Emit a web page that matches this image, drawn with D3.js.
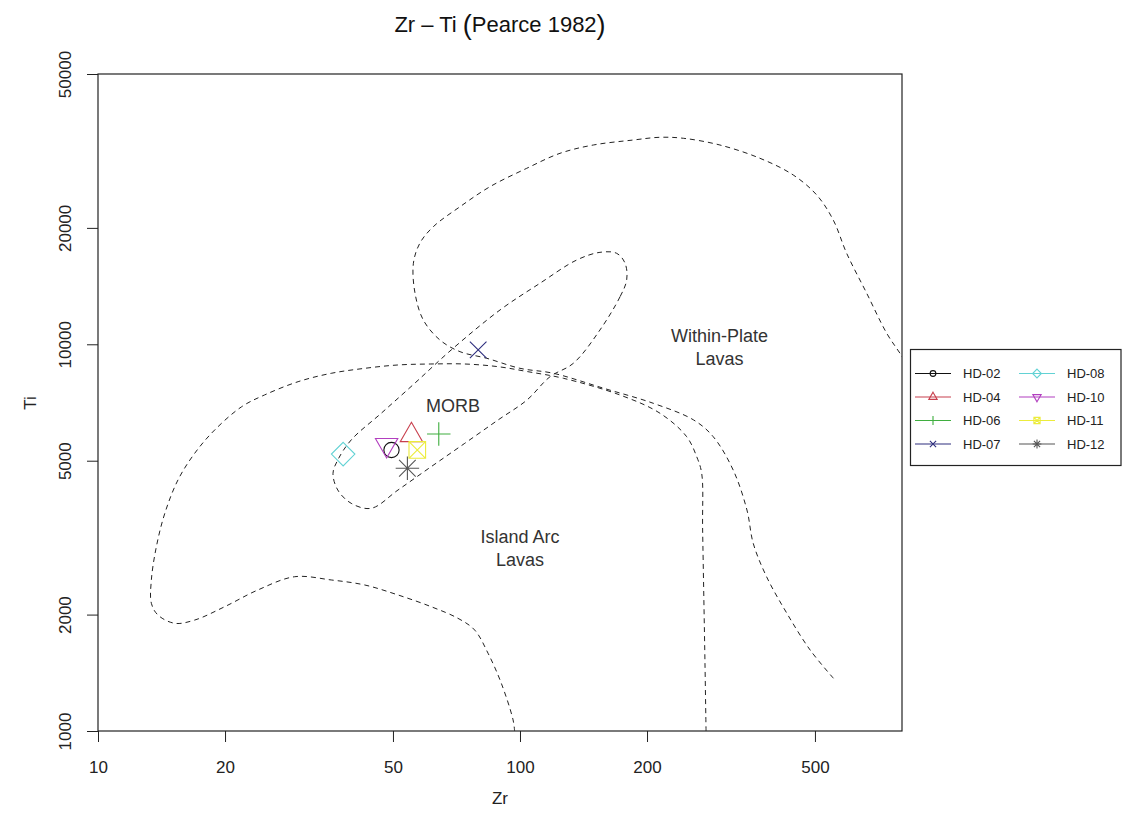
<!DOCTYPE html>
<html>
<head>
<meta charset="utf-8">
<script src="https://cdn.jsdelivr.net/npm/d3@7"></script>
<style>
  body { margin: 0; background: #fff; }
  svg { display: block; font-family: "Liberation Sans", Arial, sans-serif; }
</style>
</head>
<body>
<svg id="chart" width="1123" height="821"></svg>
<script>
// Samples (Zr and Ti in ppm)
const samples = ["HD-02", "HD-04", "HD-06", "HD-07", "HD-08", "HD-10", "HD-11", "HD-12"];
const zrValues = [49.6, 55.3, 64.2, 79.6, 38.1, 48.3, 57.1, 54.1];
const tiValues = [5330, 5820, 5860, 9670, 5200, 5490, 5330, 4780];
const sampleColors = ["#111111", "#c8404e", "#3fae3f", "#2e2e7e", "#62d2d4", "#b23fbf", "#ecec3c", "#555555"];
const sampleSymbols = ["circle", "triangleUp", "plus", "cross", "diamond", "triangleDown", "squareCross", "asterisk"];

// Axis ticks
const xTicks = [10, 20, 50, 100, 200, 500];
const yTicks = [1000, 2000, 5000, 10000, 20000, 50000];

// Field boundaries, [Zr, Ti]
const withinPlateBoundary = [
  [553, 1369], [487, 1620], [429, 2015], [384, 2506], [357, 3058], [345, 3728], [320, 4731],
  [287, 5769], [258, 6371], [207, 7037], [158, 7694], [120, 8414], [100, 8668], [83.4, 9201],
  [72.1, 9570], [64.6, 10260], [59.0, 11560], [56.4, 13550], [55.9, 16200], [57.9, 18250],
  [62.3, 20140], [72.1, 22690], [84.9, 25560], [103.7, 28510], [124.4, 31180], [149.2, 32760],
  [185.5, 33750], [214.7, 34300], [243.8, 34100], [297.7, 32760], [370.4, 30270], [444.2, 27400],
  [504.8, 24330], [552.5, 20960], [594.5, 17190], [663.2, 13550], [739.6, 10680], [800, 9383], [863, 8185]
];
const islandArcBoundary = [
  [276, 1000], [274.4, 1497], [270.9, 3309], [269.5, 4639], [262.3, 5120], [248.3, 5769],
  [214.7, 6632], [172.6, 7394], [126.7, 8168], [104.5, 8494], [88.7, 8753], [74.0, 8893],
  [61.5, 8893], [51.4, 8842], [42.9, 8668], [35.7, 8414], [29.8, 8004], [24.8, 7394],
  [21.9, 6896], [18.9, 6003], [16.95, 5226], [15.47, 4458], [14.4, 3656], [13.75, 2996],
  [13.38, 2458], [13.38, 2139], [13.87, 1995], [15.2, 1899], [16.95, 1936], [19.96, 2096],
  [23.93, 2316], [29.25, 2506], [35.7, 2458], [42.9, 2385], [51.4, 2248], [61.6, 2096],
  [71.3, 1956], [78.1, 1824], [84.0, 1589], [90.3, 1329], [96.3, 1068], [97.1, 1000]
];
const morbBoundary = [
  [179, 14670], [172.6, 13270], [154.7, 10890], [133.8, 8930], [117.8, 8245], [103.9, 7178],
  [88.7, 6371], [74.0, 5546], [61.6, 4826], [51.4, 4200], [44.4, 3766], [39.8, 3880],
  [37.0, 4200], [36.05, 4639], [37.0, 5021], [39.8, 5656], [46.9, 6632], [56.3, 7928],
  [68.7, 9667], [89.7, 12270], [111.5, 14380], [136.3, 16520], [154.7, 17290], [169.5, 17190],
  [177.4, 16200]
];

// Field labels: text lines with anchor position [Zr, Ti] (first baseline)
const fieldLabels = [
  { lines: ["MORB"], pos: [69.4, 6680] },
  { lines: ["Within-Plate", "Lavas"], pos: [297, 10150] },
  { lines: ["Island Arc", "Lavas"], pos: [100, 3070] }
];

const svg = d3.select("#chart");
const margin = { left: 98, right: 902, top: 74, bottom: 731 };

const x = d3.scaleLog().domain([10, 804]).range([margin.left, margin.right]);
const y = d3.scaleLog().domain([1000, 50000]).range([margin.bottom, margin.top]);

svg.append("defs").append("clipPath").attr("id", "plot-clip")
  .append("rect")
  .attr("x", margin.left).attr("y", margin.top)
  .attr("width", margin.right - margin.left).attr("height", margin.bottom - margin.top);

// Title
const title = svg.append("text")
  .attr("x", 500).attr("y", 32)
  .attr("text-anchor", "middle")
  .attr("font-size", 22).attr("fill", "#111");
title.append("tspan").text("Zr \u2013 Ti ");
title.append("tspan").attr("font-size", 27).attr("dy", 2).text("(");
title.append("tspan").attr("dy", -2).text("Pearce 1982");
title.append("tspan").attr("font-size", 27).attr("dy", 2).text(")");

// Axes
const xAxis = d3.axisBottom(x).tickValues(xTicks).tickFormat(d3.format("d"))
  .tickSize(11).tickPadding(19);
const gx = svg.append("g").attr("transform", `translate(0,${margin.bottom})`).call(xAxis);
gx.select(".domain").remove();
gx.selectAll("text").attr("font-size", 17).attr("fill", "#222").attr("font-family", "Liberation Sans, Arial, sans-serif");
gx.selectAll("line").attr("stroke", "#222");

const yAxis = d3.axisLeft(y).tickValues(yTicks).tickFormat(d3.format("d")).tickSize(11);
const gy = svg.append("g").attr("transform", `translate(${margin.left},0)`).call(yAxis);
gy.select(".domain").remove();
gy.selectAll("line").attr("stroke", "#222");
gy.selectAll("text")
  .attr("x", null).attr("dy", null).attr("y", null)
  .attr("text-anchor", "middle")
  .attr("transform", "translate(-27,0) rotate(-90)")
  .attr("font-size", 17).attr("fill", "#222").attr("font-family", "Liberation Sans, Arial, sans-serif");

// Axis titles
svg.append("text").attr("x", 500).attr("y", 804).attr("text-anchor", "middle")
  .attr("font-size", 17).attr("fill", "#222").text("Zr");
svg.append("text").attr("transform", "translate(36,403) rotate(-90)").attr("text-anchor", "middle")
  .attr("font-size", 17).attr("fill", "#222").text("Ti");

// Plot frame
svg.append("rect")
  .attr("x", margin.left).attr("y", margin.top)
  .attr("width", margin.right - margin.left).attr("height", margin.bottom - margin.top)
  .attr("fill", "none").attr("stroke", "#222").attr("stroke-width", 1.2);

// Field boundaries
const plot = svg.append("g").attr("clip-path", "url(#plot-clip)");
const boundaryLine = d3.line().x(d => x(d[0])).y(d => y(d[1])).curve(d3.curveCatmullRom.alpha(0.5));
const closedLine = d3.line().x(d => x(d[0])).y(d => y(d[1])).curve(d3.curveCatmullRomClosed.alpha(0.5));

[withinPlateBoundary, islandArcBoundary].forEach(b => {
  plot.append("path").attr("d", boundaryLine(b))
    .attr("fill", "none").attr("stroke", "#222").attr("stroke-width", 1)
    .attr("stroke-dasharray", "5,4");
});
plot.append("path").attr("d", closedLine(morbBoundary))
  .attr("fill", "none").attr("stroke", "#222").attr("stroke-width", 1)
  .attr("stroke-dasharray", "5,4");

// Field labels
fieldLabels.forEach(f => {
  const t = plot.append("text")
    .attr("x", x(f.pos[0])).attr("y", y(f.pos[1]))
    .attr("text-anchor", "middle").attr("font-size", 18).attr("fill", "#333");
  f.lines.forEach((ln, i) => {
    t.append("tspan").attr("x", x(f.pos[0])).attr("dy", i === 0 ? 0 : 23).text(ln);
  });
});

// Symbol shapes (sizes follow base radius r)
function drawSymbol(g, type, cx, cy, r, color, lw) {
  const s = g.append("g").attr("transform", `translate(${cx},${cy})`)
    .attr("fill", "none").attr("stroke", color).attr("stroke-width", lw);
  const k = Math.SQRT2 * r;
  const tr = 1.5551 * r, txc = 1.3468 * r, tyc = 0.7776 * r;
  switch (type) {
    case "circle":
      s.append("circle").attr("r", r * 0.92); break;
    case "triangleUp":
      s.append("path").attr("d", `M0,${-tr}L${txc},${tyc}L${-txc},${tyc}Z`); break;
    case "triangleDown":
      s.append("path").attr("d", `M0,${tr}L${txc},${-tyc}L${-txc},${-tyc}Z`); break;
    case "plus":
      s.append("path").attr("d", `M${-k},0H${k}M0,${-k}V${k}`); break;
    case "cross":
      s.append("path").attr("d", `M${-r},${-r}L${r},${r}M${-r},${r}L${r},${-r}`); break;
    case "diamond":
      s.append("path").attr("d", `M0,${-k}L${k},0L0,${k}L${-k},0Z`); break;
    case "squareCross":
      s.append("path").attr("d", `M${-r},${-r}H${r}V${r}H${-r}Z M${-r},${-r}L${r},${r}M${-r},${r}L${r},${-r}`); break;
    case "asterisk":
      s.append("path").attr("d", `M${-r},${-r}L${r},${r}M${-r},${r}L${r},${-r}M${-k},0H${k}M0,${-k}V${k}`); break;
  }
}

// Sample points
const pts = svg.append("g");
samples.forEach((name, i) => {
  drawSymbol(pts, sampleSymbols[i], x(zrValues[i]), y(tiValues[i]), 8.3, sampleColors[i], 1.1);
});

// Legend
const legend = svg.append("g");
legend.append("rect").attr("x", 910.5).attr("y", 349.5).attr("width", 210.5).attr("height", 116)
  .attr("fill", "#fff").attr("stroke", "#222").attr("stroke-width", 1.2);
const legRowY = [373.5, 397, 420.5, 444];
const legColX = [915, 1019];
samples.forEach((name, i) => {
  const col = Math.floor(i / 4), row = i % 4;
  const lx = legColX[col], ly = legRowY[row];
  legend.append("line").attr("x1", lx).attr("x2", lx + 36).attr("y1", ly).attr("y2", ly)
    .attr("stroke", sampleColors[i]).attr("stroke-width", 1.2);
  drawSymbol(legend, sampleSymbols[i], lx + 18, ly, 3.1, sampleColors[i], 1.1);
  legend.append("text").attr("x", lx + 48).attr("y", ly + 4.7)
    .attr("font-size", 13).attr("fill", "#222").text(name);
});
</script>
</body>
</html>
